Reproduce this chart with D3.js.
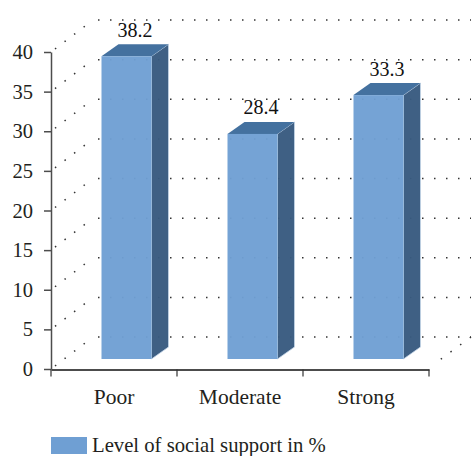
<!DOCTYPE html>
<html>
<head>
<meta charset="utf-8">
<script src="https://cdn.jsdelivr.net/npm/d3@7"></script>
<style>
  html, body { margin: 0; padding: 0; background: #fff; }
  text { font-family: "Liberation Serif", serif; fill: #231f20; }
</style>
</head>
<body>
<svg id="chart" width="472" height="456"></svg>
<script>
const categories = ["Poor", "Moderate", "Strong"];
const values = [38.2, 28.4, 33.3];
const yTicks = [0, 5, 10, 15, 20, 25, 30, 35, 40];
const seriesName = "Level of social support in %";

const svg = d3.select("#chart");

const x = d3.scaleBand().domain(categories).range([51, 429]);
const y = d3.scaleLinear().domain([0, 40]).range([369, 52]);

// 3d offsets: the wall sits behind the axes, the bars in the middle of the floor
const wallDx = 42, wallDy = 32;
const barDx = 17, barDy = 12;
const barFloor = 10, barShift = 50.5, barWidth = 50;

const grid = svg.append("g")
  .attr("stroke", "#333")
  .attr("stroke-width", 1.5)
  .attr("stroke-dasharray", "1.5 10.5")
  .attr("fill", "none");

// back wall
grid.selectAll(".wall")
  .data(yTicks)
  .enter().append("line")
  .attr("class", "wall")
  .attr("x1", x.range()[0] + wallDx + 5)
  .attr("x2", x.range()[1] + wallDx)
  .attr("y1", d => y(d) - wallDy)
  .attr("y2", d => y(d) - wallDy);

// side wall
grid.selectAll(".side")
  .data(yTicks)
  .enter().append("line")
  .attr("class", "side")
  .attr("x1", x.range()[0] + 4)
  .attr("x2", x.range()[0] + wallDx)
  .attr("y1", d => y(d) - 3)
  .attr("y2", d => y(d) - wallDy);

// right edge of the floor
grid.append("line")
  .attr("x1", x.range()[1] + wallDx)
  .attr("x2", x.range()[1] + 8)
  .attr("y1", y(0) - wallDy)
  .attr("y2", y(0) - 7);

const bars = svg.selectAll(".bar")
  .data(categories.map((c, i) => ({ c: c, v: values[i] })))
  .enter().append("g")
  .attr("class", "bar")
  .attr("transform", d => "translate(" + (x(d.c) + barShift) + ",0)");

const barTop = d => y(d.v) - barFloor;
const barBase = y(0) - barFloor;

bars.append("path")
  .attr("fill", "#395b80")
  .attr("fill-opacity", 0.97)
  .attr("stroke", "#c4d5e8")
  .attr("stroke-width", 0.8)
  .attr("d", d => "M" + barWidth + "," + barTop(d)
    + "l" + barDx + "," + (-barDy)
    + "V" + (barBase - barDy)
    + "l" + (-barDx) + "," + barDy + "Z");

bars.append("path")
  .attr("fill", "#44719f")
  .attr("d", d => "M0," + barTop(d)
    + "l" + barDx + "," + (-barDy)
    + "h" + barWidth
    + "l" + (-barDx) + "," + barDy + "Z");

bars.append("rect")
  .attr("width", barWidth)
  .attr("y", barTop)
  .attr("height", d => barBase - barTop(d))
  .attr("fill", "#6f9fd3")
  .attr("fill-opacity", 0.96);

bars.append("text")
  .attr("x", 33.5)
  .attr("y", d => barTop(d) - barDy - 7.5)
  .attr("text-anchor", "middle")
  .attr("font-size", 20)
  .style("fill", "#111")
  .text(d => d.v);

// axes
const yAxis = svg.append("g")
  .attr("transform", "translate(51,0)")
  .call(d3.axisLeft(y).tickValues(yTicks).tickSize(7).tickPadding(11).tickSizeOuter(0));
yAxis.selectAll("path, line").attr("stroke", "#4d4d4d").attr("stroke-width", 1.5);
yAxis.selectAll("text").attr("font-size", 20.5);
yAxis.attr("font-family", null);

const xAxis = svg.append("g")
  .attr("transform", "translate(0,369.5)")
  .call(d3.axisBottom(x).tickValues([]).tickSizeOuter(0));
xAxis.select("path").attr("stroke", "#111").attr("stroke-width", 1.4);
xAxis.attr("font-family", null);

// band edges get the tick marks, the labels sit in the middle of the band
const edges = [51].concat(categories.map(c => x(c) + x.bandwidth()));
svg.selectAll(".xtick")
  .data(edges)
  .enter().append("line")
  .attr("class", "xtick")
  .attr("x1", d => d).attr("x2", d => d)
  .attr("y1", 369.5).attr("y2", 376.5)
  .attr("stroke", "#333")
  .attr("stroke-width", 1.2);

svg.selectAll(".xlabel")
  .data(categories)
  .enter().append("text")
  .attr("class", "xlabel")
  .attr("x", d => x(d) + x.bandwidth() / 2)
  .attr("y", 404)
  .attr("text-anchor", "middle")
  .attr("font-size", 21.5)
  .text(d => d);

// legend
svg.append("rect")
  .attr("x", 51).attr("y", 437)
  .attr("width", 36).attr("height", 17)
  .attr("fill", "#6f9fd3");

svg.append("text")
  .attr("x", 92).attr("y", 452)
  .attr("font-size", 20.7)
  .text(seriesName);
</script>
</body>
</html>
